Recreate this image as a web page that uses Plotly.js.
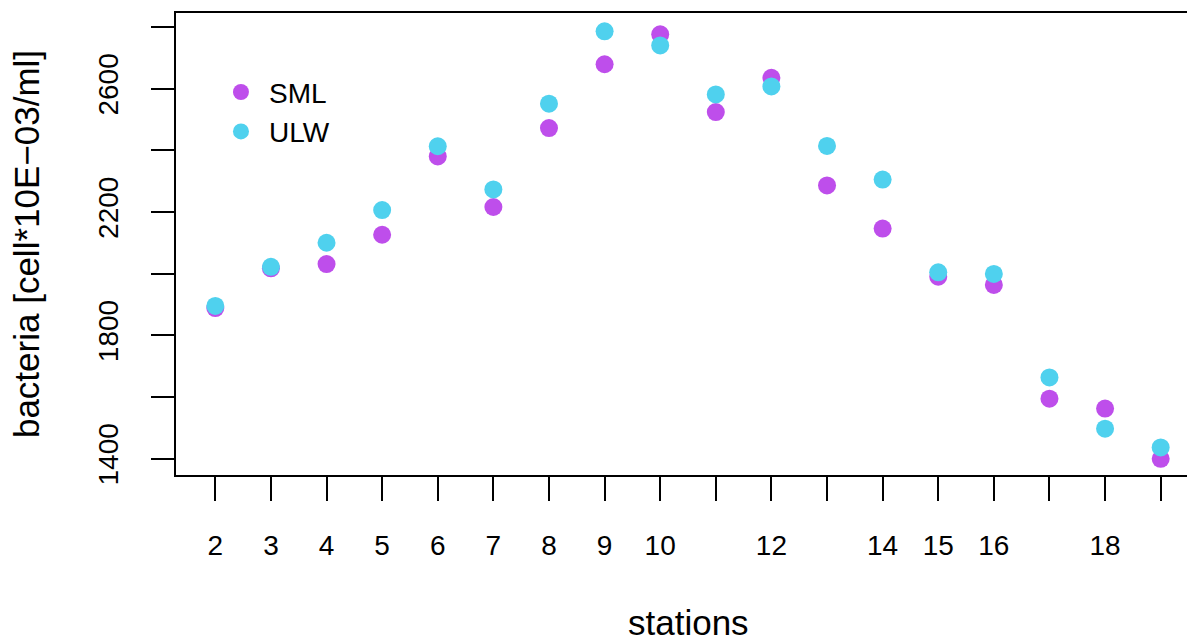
<!DOCTYPE html>
<html>
<head>
<meta charset="utf-8">
<script src="https://cdn.plot.ly/plotly-3.0.1.min.js"></script>
<style>
  html, body { margin: 0; padding: 0; overflow: hidden; background: #ffffff; }
  #chart { width: 1200px; height: 641px; }
</style>
</head>
<body>
<div id="chart"></div>
<script>
// ---- data ----
var stations = [2, 3, 4, 5, 6, 7, 8, 9, 10, 11, 12, 13, 14, 15, 16, 17, 18, 19];
var sml = [1888, 2017, 2031, 2126, 2380, 2216, 2472, 2679, 2776, 2524, 2635, 2286, 2146, 1990, 1963, 1594, 1562, 1399];
var ulw = [1895, 2022, 2100, 2206, 2413, 2273, 2551, 2786, 2740, 2581, 2607, 2414, 2305, 2004, 1999, 1663, 1497, 1436];
var seriesNames = ["SML", "ULW"];
var xTickVals = [2, 3, 4, 5, 6, 7, 8, 9, 10, 11, 12, 13, 14, 15, 16, 17, 18, 19];
var xTickText = ["2", "3", "4", "5", "6", "7", "8", "9", "10", "", "12", "", "14", "15", "16", "", "18", ""];
var yTickVals = [1400, 1600, 1800, 2000, 2200, 2400, 2600, 2800];
var yTickText = ["1400", "", "1800", "", "2200", "", "2600", ""];
var xTitle = "stations";
var yTitle = "bacteria [cell*10E\u221203/ml]";

var FONT = "Liberation Sans, Arial, Helvetica, sans-serif";

var traces = [
  {
    type: "scatter", mode: "markers", name: seriesNames[0],
    x: stations, y: sml,
    marker: { color: "#BE4EEB", size: 18, line: { width: 0 } }
  },
  {
    type: "scatter", mode: "markers", name: seriesNames[1],
    x: stations, y: ulw,
    marker: { color: "#4FD1EE", size: 18, line: { width: 0 } }
  }
];

var layout = {
  width: 1200, height: 641,
  margin: { l: 176, r: 0, t: 13, b: 166, pad: 0 },
  paper_bgcolor: "#ffffff", plot_bgcolor: "#ffffff",
  font: { family: FONT, color: "#000000", size: 28 },
  showlegend: true,
  legend: {
    x: 0.0361, y: 0.8825, xanchor: "left", yanchor: "top",
    bgcolor: "rgba(0,0,0,0)", borderwidth: 0,
    font: { family: FONT, size: 28, color: "#000000" },
    itemsizing: "trace", itemwidth: 46, tracegroupgap: 0
  },
  xaxis: {
    range: [1.293, 19.707],
    tickmode: "array", tickvals: xTickVals, ticktext: xTickText,
    ticks: "outside", ticklen: 24, tickwidth: 2, tickcolor: "#000000",
    ticklabelstandoff: 20,
    showline: true, linewidth: 2, linecolor: "#000000", mirror: true,
    showgrid: false, zeroline: false,
    tickfont: { family: FONT, size: 28, color: "#000000" }
  },
  yaxis: {
    range: [1346.6, 2845.3],
    tickmode: "array", tickvals: yTickVals, ticktext: yTickText,
    ticks: "outside", ticklen: 23, tickwidth: 2, tickcolor: "#000000",
    tickangle: -90,
    ticklabelstandoff: 22,
    showline: true, linewidth: 2, linecolor: "#000000", mirror: false,
    showgrid: false, zeroline: false,
    tickfont: { family: FONT, size: 28, color: "#000000" },
    title: { text: yTitle, font: { family: FONT, size: 35, color: "#000000" }, standoff: 43 }
  },
  annotations: [
    {
      text: xTitle, xref: "paper", yref: "paper", x: 0.5, y: 0,
      xanchor: "center", yanchor: "middle", yshift: -147,
      showarrow: false,
      font: { family: FONT, size: 35, color: "#000000" }
    }
  ]
};

Plotly.newPlot("chart", traces, layout, { displayModeBar: false, staticPlot: true });
</script>
</body>
</html>
